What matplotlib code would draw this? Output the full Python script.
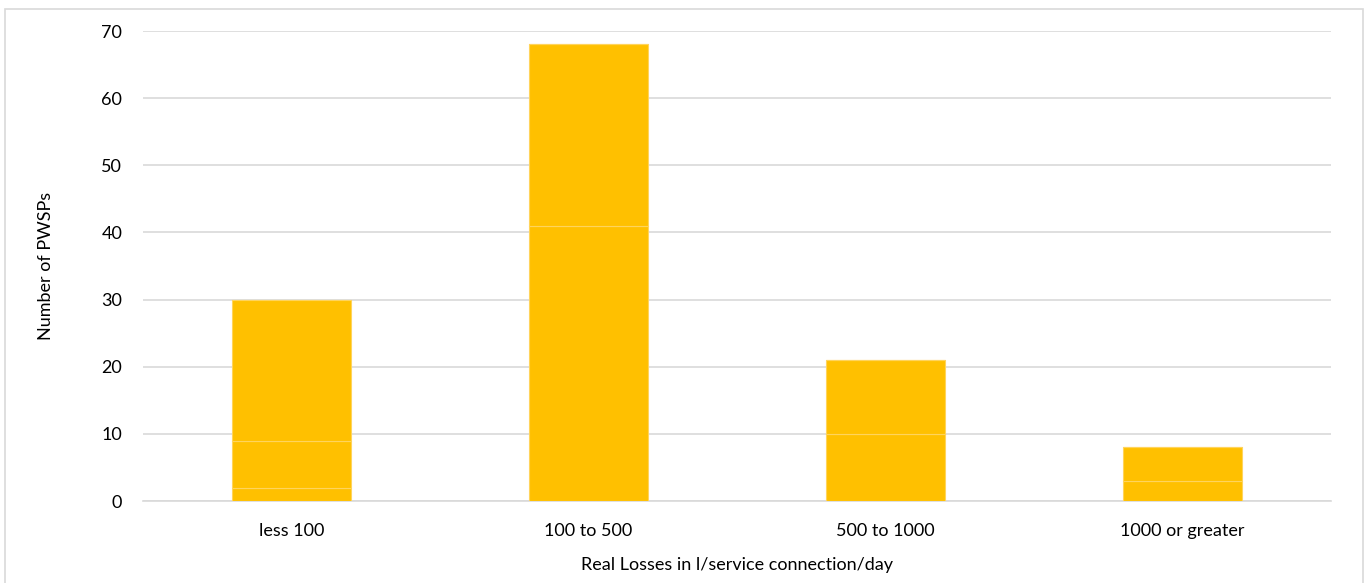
import matplotlib
matplotlib.use('Agg')
import matplotlib.pyplot as plt
from matplotlib.patches import Rectangle
import numpy as np

categories = ['less 100', '100 to 500', '500 to 1000', '1000 or greater']
# stacked segments, bottom to top
seg_a = [2, 41, 10, 3]
seg_b = [7, 27, 11, 5]
seg_c = [21, 0, 0, 0]
yticks = [0, 10, 20, 30, 40, 50, 60, 70]

plt.rcParams['font.family'] = ['Lato', 'DejaVu Sans']


def plot_bars():
    fig = plt.figure(figsize=(13.66, 5.83), dpi=100)
    ax = fig.add_axes([143 / 1366, 1 - 501 / 583, 1188 / 1366, 470 / 583])

    x = np.arange(len(categories))
    bottom = np.zeros(len(categories))
    for seg in (seg_a, seg_b, seg_c):
        seg = np.array(seg, dtype=float)
        ax.bar(x, seg, 0.4, bottom=bottom, color='#ffc000',
               edgecolor='#ffd45c', linewidth=0.8, zorder=3)
        bottom += seg

    ax.set_xlim(-0.5, len(categories) - 0.5)
    ax.set_ylim(0, 70)
    ax.set_yticks(yticks)
    ax.set_xticks(x)
    ax.set_xticklabels(categories)
    ax.tick_params(axis='both', length=0, labelsize=13, colors='black')
    ax.tick_params(axis='y', pad=15)
    ax.tick_params(axis='x', pad=16)
    ax.grid(axis='y', color='#d9d9d9', linewidth=1.2, zorder=0)
    for s in ['top', 'right', 'left']:
        ax.spines[s].set_visible(False)
    ax.spines['bottom'].set_color('#d9d9d9')
    ax.spines['bottom'].set_linewidth(1.2)

    ax.set_xlabel('Real Losses in l/service connection/day', fontsize=13, labelpad=13)
    ax.set_ylabel('Number of PWSPs', fontsize=13, labelpad=34)

    # outer chart border
    fig.patches.append(Rectangle((5 / 1366, -0.01), 1358 / 1366, 1 - 9 / 583 + 0.01,
                                 transform=fig.transFigure, fill=False,
                                 edgecolor='#d9d9d9', linewidth=1.2))
    fig.savefig('out.png', dpi=100)


if __name__ == "__main__":
    plot_bars()
